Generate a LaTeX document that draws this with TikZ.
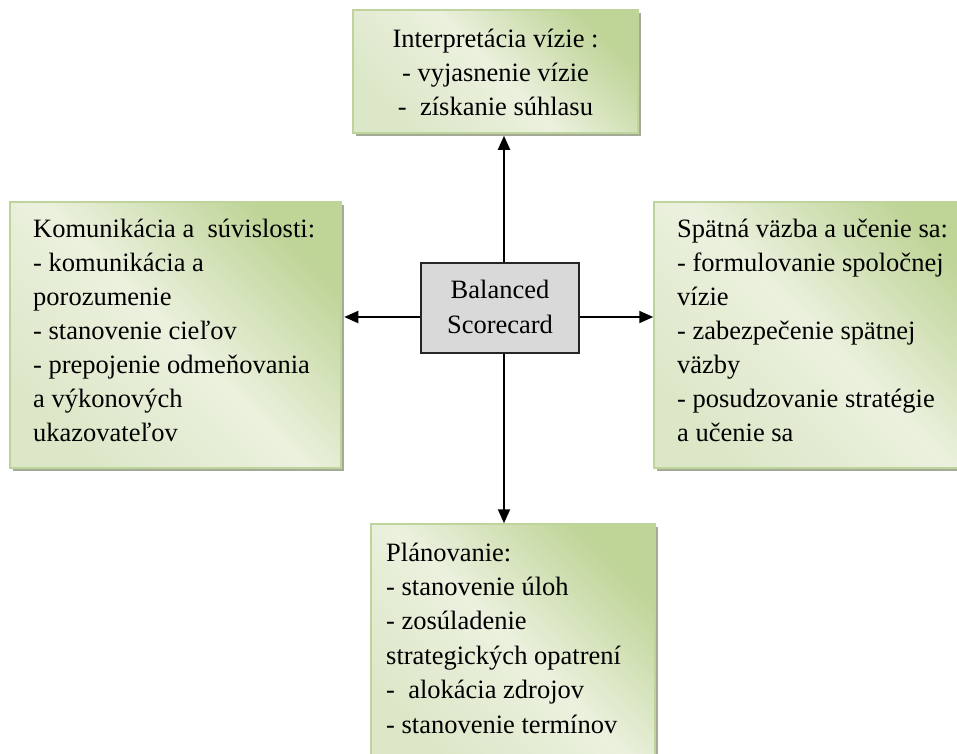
\documentclass[tikz,border=0pt]{standalone}
\usepackage{fontspec}
\setmainfont{Liberation Serif}
\newfontfamily\boxfont{Liberation Serif}
\usetikzlibrary{arrows.meta,shadows}

\definecolor{boxdark}{HTML}{BFD497}
\definecolor{boxlight}{HTML}{EBF1DE}
\definecolor{boxmid}{HTML}{DCE7C8}
\definecolor{boxedge}{HTML}{BFD49A}
\definecolor{boxshadow}{HTML}{A3AA98}
\definecolor{coregray}{HTML}{D9D9D9}

\tikzset{
  panel/.style={rectangle, draw=boxedge, line width=1.5pt,
    top color=boxdark, bottom color=boxmid, middle color=boxlight,
    shading angle=-45,
    drop shadow={shadow xshift=2.5pt, shadow yshift=-2.5pt, fill=boxshadow, opacity=1},
    inner sep=0pt},
  core/.style={rectangle, draw=black!85, line width=1.6pt, fill=coregray, inner sep=0pt},
  txt/.style={inner sep=0pt, font=\boxfont\fontsize{26.5}{34}\selectfont},
  link/.style={line width=2pt, -{Triangle[length=14pt,width=12pt]}},
}

\begin{document}
\begin{tikzpicture}[x=1pt, y=-1pt]
  \useasboundingbox (0,0) rectangle (957,753);
  \clip (0,0) rectangle (957,753);

  % the four panels around the centre
  \node[panel, minimum width=285pt, minimum height=123pt] (vision) at (495.5,71.5) {};
  \node[panel, minimum width=331pt, minimum height=266pt] (comm) at (175.5,335) {};
  \node[panel, minimum width=331pt, minimum height=266pt] (feed) at (819.5,335) {};
  \node[panel, minimum width=284pt, minimum height=239pt] (plan) at (513,643.5) {};

  % centre box
  \node[core, minimum width=158pt, minimum height=90pt] (bsc) at (500,308) {};

  % panel texts
  \node[txt, anchor=base] (visiontext) at (495.5,47)
    {\begin{tabular}[t]{@{}c@{}}Interpretácia vízie :\\- vyjasnenie vízie\\- \ získanie súhlasu\end{tabular}};
  \node[txt, anchor=base west] (commtext) at (33,237)
    {\begin{tabular}[t]{@{}l@{}}Komunikácia a \ súvislosti:\\- komunikácia a\\porozumenie\\- stanovenie cieľov\\- prepojenie odmeňovania\\a výkonových\\ukazovateľov\end{tabular}};
  \node[txt, anchor=base west] (feedtext) at (677,237)
    {\begin{tabular}[t]{@{}l@{}}Spätná väzba a učenie sa:\\- formulovanie spoločnej\\vízie\\- zabezpečenie spätnej\\väzby\\- posudzovanie stratégie\\a učenie sa\end{tabular}};
  \node[txt, anchor=base west, font=\boxfont\fontsize{26.5}{34.4}\selectfont] (plantext) at (386,561)
    {\begin{tabular}[t]{@{}l@{}}Plánovanie:\\- stanovenie úloh\\- zosúladenie\\strategických opatrení\\- \ alokácia zdrojov\\- stanovenie termínov\end{tabular}};
  \node[txt, anchor=base, font=\boxfont\fontsize{26.5}{35}\selectfont] (bsctext) at (500,298)
    {\begin{tabular}[t]{@{}c@{}}Balanced\\Scorecard\end{tabular}};

  % connectors from the centre box to the panels
  \coordinate (up) at ([xshift=4pt]bsc.north);
  \coordinate (down) at ([xshift=4pt]bsc.south);
  \coordinate (lft) at ([yshift=-9pt]bsc.west);
  \coordinate (rgt) at ([yshift=-9pt]bsc.east);
  \draw[link] (up) -- ([yshift=-2pt]up |- vision.south);
  \draw[link] (down) -- (down |- plan.north);
  \draw[link] (lft) -- ([xshift=2.5pt]comm.east |- lft);
  \draw[link] (rgt) -- (feed.west |- rgt);
\end{tikzpicture}
\end{document}
